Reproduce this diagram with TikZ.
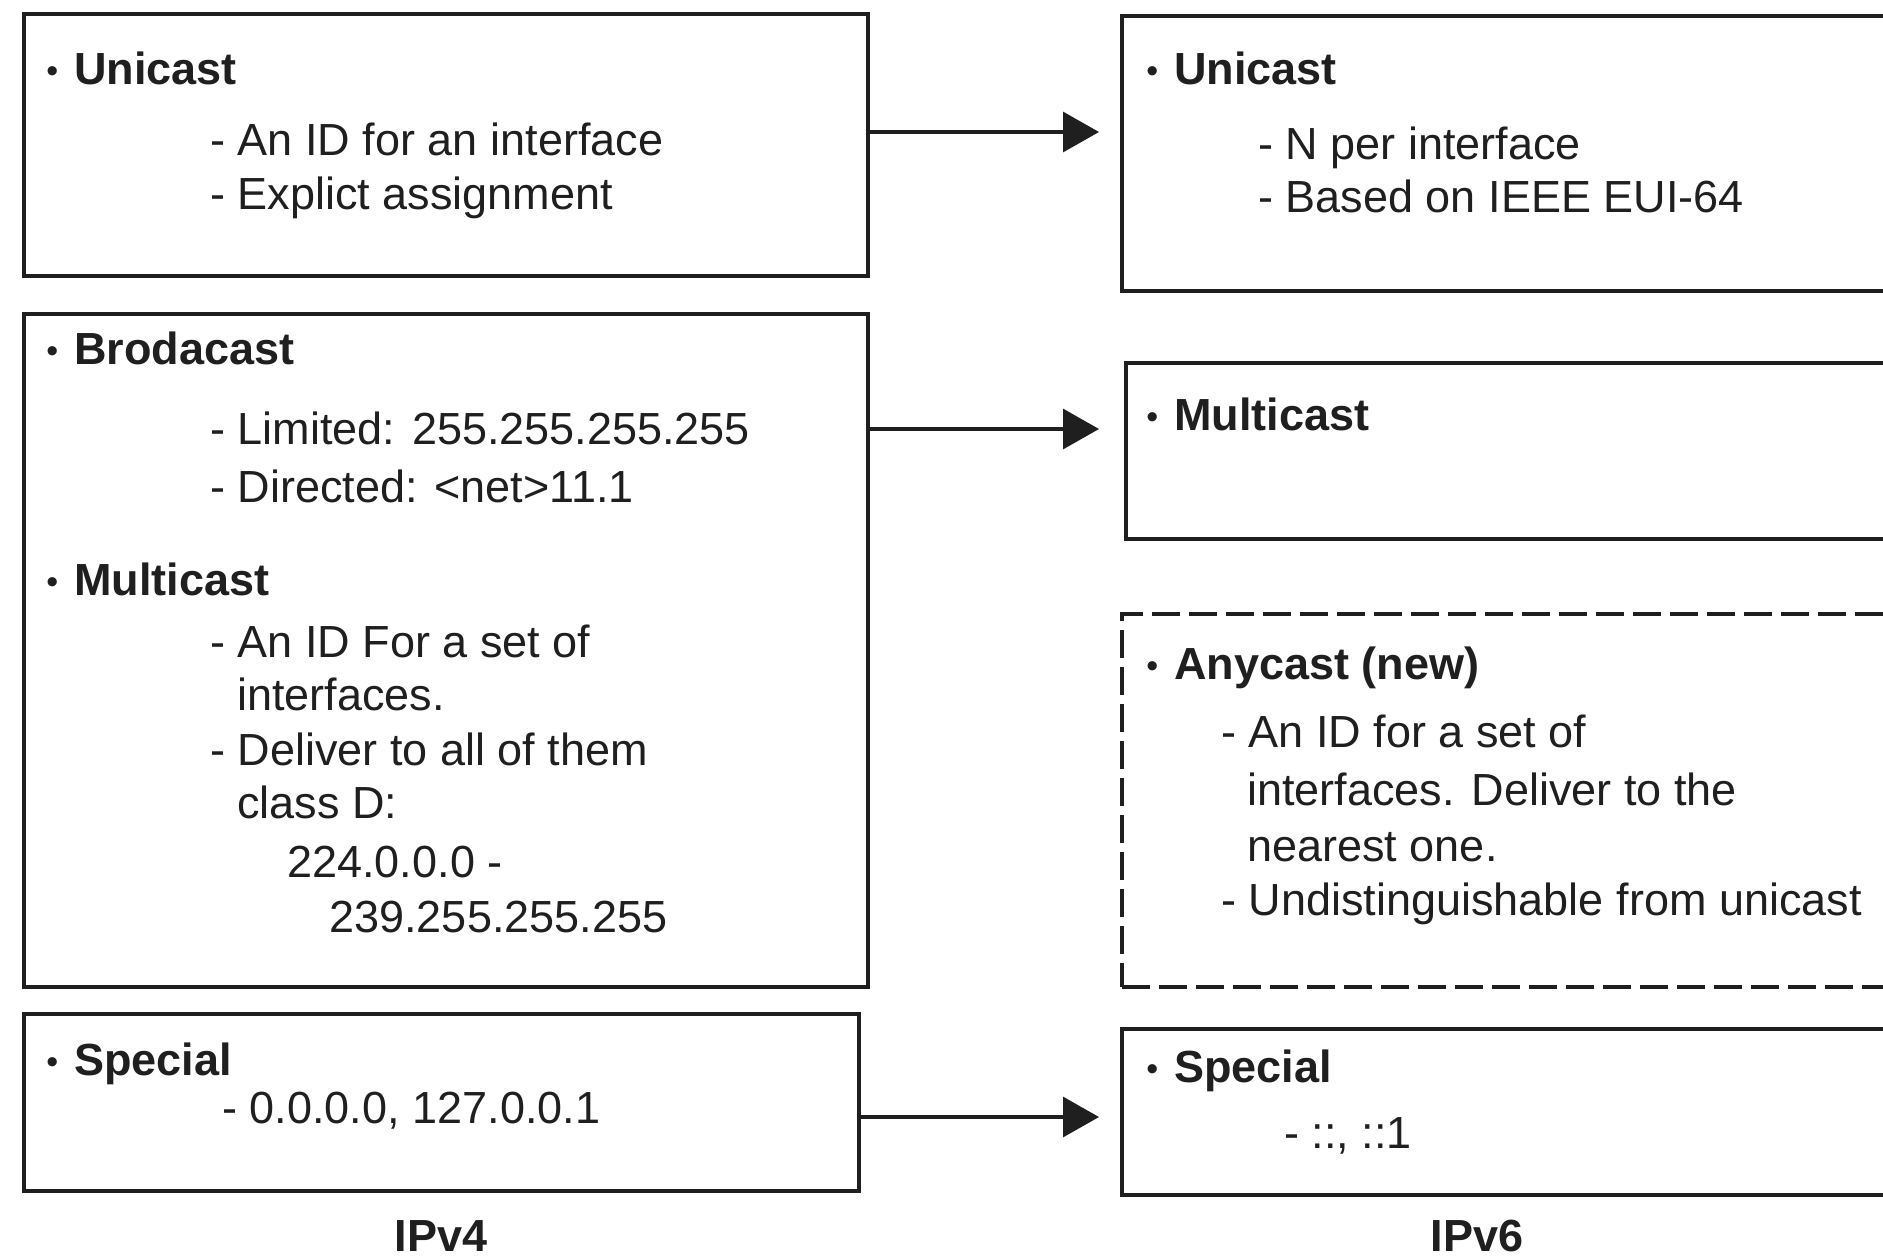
\documentclass[tikz,border=0pt]{standalone}
\usepackage{fontspec}
\setmainfont{Liberation Sans}
\usetikzlibrary{arrows.meta}
\newcommand{\bul}{{\fontsize{17pt}{17pt}\selectfont\raisebox{1pt}{•}}\hspace{8pt}}
\begin{document}
\begin{tikzpicture}[x=0.5pt,y=-0.5pt,
  box/.style={draw=black!88, line width=2pt, inner sep=0pt, anchor=north west},
  dbox/.style={box, dash pattern=on 14pt off 4.5pt},
  txt/.style={anchor=base west, inner sep=0pt, font=\fontsize{22.5pt}{27pt}\selectfont, text=black!88},
  lbl/.style={anchor=base, inner sep=0pt, font=\fontsize{22.5pt}{27pt}\selectfont\bfseries, text=black!88},
  conn/.style={line width=1.6pt, draw=black!88, -{Triangle[length=18pt,width=20pt]}}]
\useasboundingbox (0,0) rectangle (1883,1259);
\clip (0,0) rectangle (1883,1259);
% left boxes
\node[box, minimum width=422pt, minimum height=131pt] (l1) at (22,12) {};
\node[box, minimum width=422pt, minimum height=336.5pt] (l2) at (22,312) {};
\node[box, minimum width=417.5pt, minimum height=88.5pt] (l3) at (22,1012) {};
% right boxes
\node[box, minimum width=430pt, minimum height=137.5pt] (r1) at (1120,14) {};
\node[box, minimum width=430pt, minimum height=88pt] (r2) at (1124,361) {};
\node[dbox, minimum width=430pt, minimum height=186.5pt] (r3) at (1120,612) {};
\node[box, minimum width=430pt, minimum height=83pt] (r4) at (1120,1027) {};
% arrows
\coordinate (t1) at (1099,132);
\coordinate (t2) at (1099,429);
\coordinate (t3) at (1099,1117);
\draw[conn] (l1.east |- t1) -- (t1);
\draw[conn] (l2.east |- t2) -- (t2);
\draw[conn] (l3.east |- t3) -- (t3);
% left texts
\node[txt] (u4) at (46,84) {\bul\textbf{Unicast}};
\node[txt] (u4a) at (210,155) {- An ID for an interface};
\node[txt] (u4b) at (210,209) {- Explict assignment};
\node[txt] (b4) at (46,364) {\bul\textbf{Brodacast}};
\node[txt] (b4a) at (210,444) {- Limited: 255.255.255.255};
\node[txt] (b4b) at (210,502) {- Directed: <net>11.1};
\node[txt] (m4) at (46,595) {\bul\textbf{Multicast}};
\node[txt] (m4a) at (210,657) {- An ID For a set of};
\node[txt] (m4b) at (237,710) {interfaces.};
\node[txt] (m4c) at (210,765) {- Deliver to all of them};
\node[txt] (m4d) at (237,818) {class D:};
\node[txt] (m4e) at (287,877) {224.0.0.0 -};
\node[txt] (m4f) at (329,932) {239.255.255.255};
\node[txt] (s4) at (46,1075) {\bul\textbf{Special}};
\node[txt] (s4a) at (222,1123) {- 0.0.0.0, 127.0.0.1};
% right texts
\node[txt] (u6) at (1146,84) {\bul\textbf{Unicast}};
\node[txt] (u6a) at (1258,159) {- N per interface};
\node[txt] (u6b) at (1258,212) {- Based on IEEE EUI-64};
\node[txt] (m6) at (1146,430) {\bul\textbf{Multicast}};
\node[txt] (a6) at (1146,679) {\bul\textbf{Anycast (new)}};
\node[txt] (a6a) at (1221,747) {- An ID for a set of};
\node[txt] (a6b) at (1247,805) {interfaces. Deliver to the};
\node[txt] (a6c) at (1247,861) {nearest one.};
\node[txt] (a6d) at (1221,915) {- Undistinguishable from unicast};
\node[txt] (s6) at (1146,1082) {\bul\textbf{Special}};
\node[txt] (s6a) at (1284,1148) {- ::, ::1};
% captions
\node[lbl] (ipv4) at (441,1251) {IPv4};
\node[lbl] (ipv6) at (1477,1251) {IPv6};
\end{tikzpicture}
\end{document}
